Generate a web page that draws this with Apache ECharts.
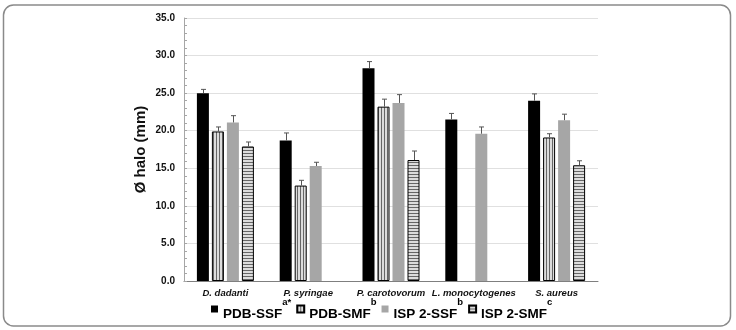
<!DOCTYPE html>
<html>
<head>
<meta charset="utf-8">
<script src="https://cdn.jsdelivr.net/npm/echarts@6/dist/echarts.min.js"></script>
<style>
html,body{margin:0;padding:0;background:#fff;}
#c{width:736px;height:330px;}
</style>
</head>
<body>
<div id="c"></div>
<script>
const categories = ['D. dadanti', 'P. syringae', 'P. carotovorum', 'L. monocytogenes', 'S. aureus'];
const seriesNames = ['PDB-SSF', 'PDB-SMF', 'ISP 2-SSF', 'ISP 2-SMF'];
const superscripts = ['a*', 'b', 'b', 'c'];
const pdbSsf = [25.0, 18.7, 28.3, 21.5, 24.0];
const pdbSsfErr = [0.5, 1.0, 0.9, 0.8, 0.9];
const pdbSmf = [19.9, 12.7, 23.2, null, 19.1];
const pdbSmfErr = [0.6, 0.7, 1.0, null, 0.5];
const ispSsf = [21.1, 15.3, 23.7, 19.6, 21.4];
const ispSsfErr = [0.9, 0.5, 1.1, 0.9, 0.8];
const ispSmf = [17.9, null, 16.1, null, 15.4];
const ispSmfErr = [0.6, null, 1.2, null, 0.6];
const yTicks = [0, 5, 10, 15, 20, 25, 30, 35];

const values = [pdbSsf, pdbSmf, ispSsf, ispSmf];
const errors = [pdbSsfErr, pdbSmfErr, ispSsfErr, ispSmfErr];

function stripes(vertical) {
  const c = document.createElement('canvas');
  c.width = vertical ? 3 : 1;
  c.height = vertical ? 1 : 3;
  const g = c.getContext('2d');
  g.fillStyle = '#dcdcdc';
  g.fillRect(0, 0, c.width, c.height);
  g.fillStyle = '#666';
  g.fillRect(0, 0, 1, 1);
  return { image: c, repeat: 'repeat' };
}

const BAR_W = 12;
const GAP = 0.25;
const fills = ['#000000', stripes(true), '#a6a6a6', stripes(false)];
const borders = [
  { borderWidth: 0 },
  { borderColor: '#000', borderWidth: 1 },
  { borderWidth: 0 },
  { borderColor: '#000', borderWidth: 1 }
];

const series = [];
values.forEach((v, i) => {
  series.push({
    name: seriesNames[i],
    type: 'bar',
    data: v,
    barWidth: BAR_W,
    barGap: (GAP * 100) + '%',
    itemStyle: Object.assign({ color: fills[i] }, borders[i])
  });
});
values.forEach((v, i) => {
  const d = [];
  v.forEach((val, k) => { if (val != null) d.push([k, val, errors[i][k], i]); });
  series.push({
    type: 'custom',
    name: seriesNames[i] + ' err',
    z: 5,
    silent: true,
    data: d,
    encode: { x: 0, y: 1 },
    renderItem: function (params, api) {
      const k = api.value(0), val = api.value(1), err = api.value(2), si = api.value(3);
      const off = (si - 1.5) * BAR_W * (1 + GAP);
      const base = api.coord([k, val]);
      const top = api.coord([k, val + err]);
      const x = Math.round(base[0] + off) + 0.5;
      return {
        type: 'group',
        children: [
          { type: 'line', shape: { x1: x, y1: base[1], x2: x, y2: top[1] }, style: { stroke: '#555', lineWidth: 1 } },
          { type: 'line', shape: { x1: x - 2.5, y1: top[1], x2: x + 2.5, y2: top[1] }, style: { stroke: '#555', lineWidth: 1 } }
        ]
      };
    }
  });
});

const chart = echarts.init(document.getElementById('c'), null, { renderer: 'canvas' });
chart.setOption({
  animation: false,
  backgroundColor: '#fff',
  graphic: [{
    type: 'rect',
    shape: { x: 3.5, y: 5, width: 727, height: 321, r: 10 },
    style: { fill: 'none', stroke: '#8a8a8a', lineWidth: 1.5 },
    z: -1
  }],
  grid: { left: 184, right: 138, top: 18, bottom: 49 },
  legend: {
    data: seriesNames,
    left: 206,
    top: 292,
    icon: 'rect',
    itemWidth: 7,
    itemHeight: 7,
    itemGap: 5,
    formatter: function (name) {
      return '{n|' + name + '}{s|' + superscripts[seriesNames.indexOf(name)] + '}';
    },
    textStyle: {
      rich: {
        n: { fontFamily: 'Liberation Sans, Arial', fontWeight: 'bold', fontSize: 13.5, color: '#000', verticalAlign: 'bottom', lineHeight: 24 },
        s: { fontFamily: 'Liberation Sans, Arial', fontWeight: 'bold', fontSize: 9.5, color: '#000', verticalAlign: 'top', lineHeight: 24 }
      }
    }
  },
  xAxis: {
    type: 'category',
    data: categories,
    axisLine: { lineStyle: { color: '#7f7f7f', width: 1 } },
    axisTick: { show: false },
    axisLabel: { interval: 0, fontFamily: 'Liberation Sans, Arial', fontWeight: 'bold', fontStyle: 'italic', fontSize: 9.5, color: '#111', margin: 7 }
  },
  yAxis: {
    type: 'value',
    min: yTicks[0],
    max: yTicks[yTicks.length - 1],
    interval: yTicks[1] - yTicks[0],
    name: 'Ø halo (mm)',
    nameLocation: 'middle',
    nameGap: 36,
    nameMoveOverlap: false,
    nameTextStyle: { fontFamily: 'Liberation Sans, Arial', fontWeight: 'bold', fontSize: 15, color: '#111' },
    axisLine: { show: true, lineStyle: { color: '#a6a6a6' } },
    axisTick: { show: true, inside: true, length: 3, lineStyle: { color: '#a6a6a6' } },
    minorTick: { show: true, splitNumber: 5, length: 3, lineStyle: { color: '#a6a6a6' } },
    splitLine: { lineStyle: { color: '#e0e0e0', width: 1 } },
    axisLabel: {
      fontFamily: 'Liberation Sans, Arial', fontWeight: 'bold', fontSize: 10, color: '#111', margin: 9,
      formatter: function (v) { return v.toFixed(1); }
    }
  },
  series: series
});
</script>
</body>
</html>
